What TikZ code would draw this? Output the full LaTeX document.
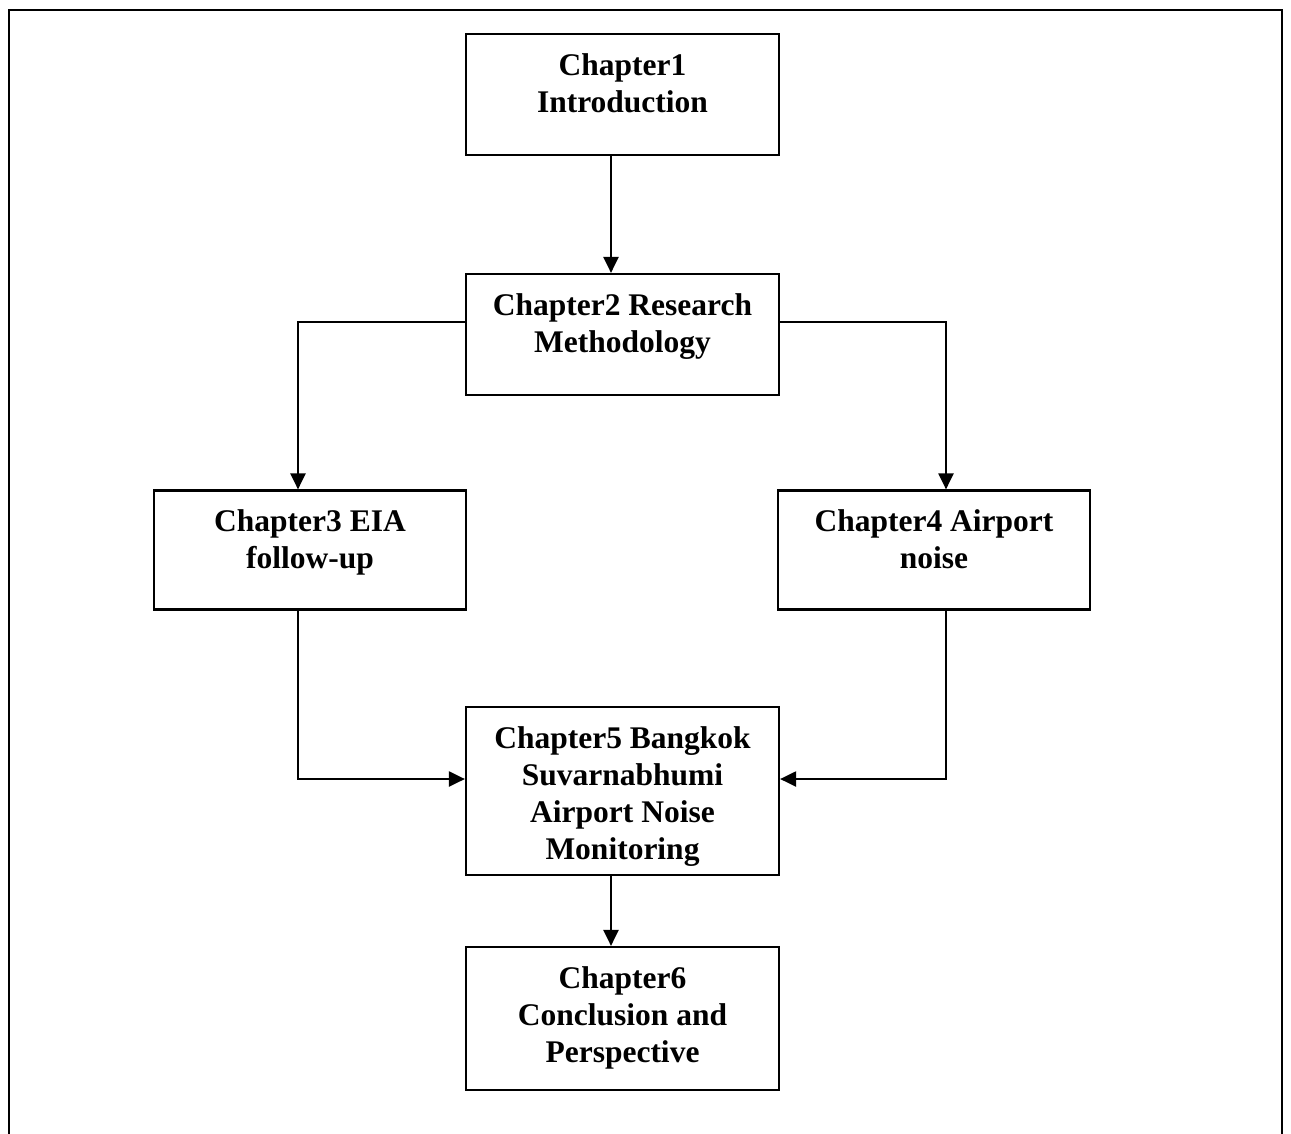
\documentclass[tikz,border=0pt]{standalone}
\usepackage{fontspec}
\setmainfont{Liberation Serif}
\usetikzlibrary{arrows.meta}
\newcommand\bxtext[2]{\parbox[c][#1pt][t]{306pt}{\centering\vspace*{19.5pt}#2\par}}
\begin{document}
\begin{tikzpicture}[x=1pt,y=1pt,
  box/.style={draw,line width=2.2pt,inner sep=0pt,minimum width=313pt,
    font=\bfseries\fontsize{31.5}{37}\selectfont},
  conn/.style={line width=2.2pt,-{Triangle[length=16pt,width=15pt]}}]
\useasboundingbox (0,0) rectangle (1291,-1133);
% outer frame (open at the bottom)
\coordinate (fbl) at (9,-1140);
\coordinate (ftr) at (1282,-10);
\draw[line width=2.2pt] (fbl) |- (ftr) -- (ftr |- fbl);
% boxes
\node[box] (b1) at (622.5,-94.5) {\bxtext{121}{Chapter1\\Introduction}};
\node[box] (b2) at (622.5,-334.5) {\bxtext{121}{Chapter2 Research\\Methodology}};
\node[box,minimum width=312pt] (b3) at (310,-550) {\bxtext{119}{Chapter3 EIA\\follow-up}};
\node[box,minimum width=312pt] (b4) at (934,-550) {\bxtext{119}{Chapter4 Airport\\noise}};
\node[box] (b5) at (622.5,-791) {\bxtext{168}{Chapter5 Bangkok\\Suvarnabhumi\\Airport Noise\\Monitoring}};
\node[box] (b6) at (622.5,-1018.5) {\bxtext{143}{Chapter6\\Conclusion and\\Perspective}};
% helper coordinates
\coordinate (ax) at (611,0);
\coordinate (lx) at (298,0);
\coordinate (rx) at (946,0);
\coordinate (ty) at (0,-322);
\coordinate (my) at (0,-779);
% connectors
\draw[conn] (b1.south -| ax) -- (b2.north -| ax);
\draw[conn] (b2.west |- ty) -| (b3.north -| lx);
\draw[conn] (b2.east |- ty) -| (b4.north -| rx);
\draw[conn] (b3.south -| lx) |- (b5.west |- my);
\draw[conn] (b4.south -| rx) |- (b5.east |- my);
\draw[conn] (b5.south -| ax) -- (b6.north -| ax);
\end{tikzpicture}
\end{document}
